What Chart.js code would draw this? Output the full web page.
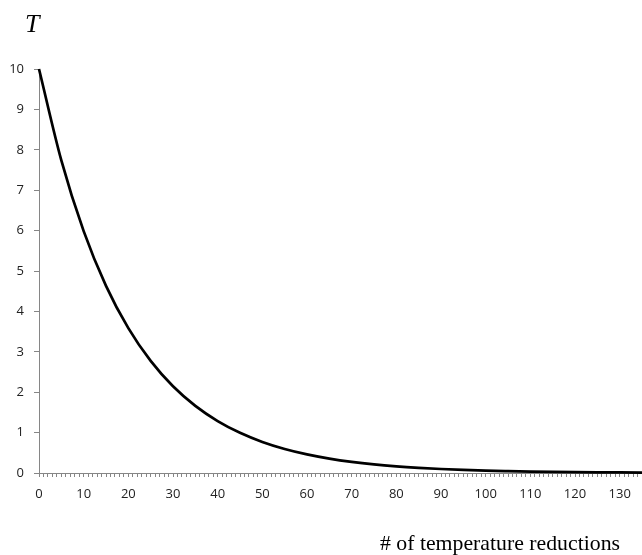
<!DOCTYPE html>
<html><head><meta charset="utf-8">
<script src="https://cdn.jsdelivr.net/npm/chart.js@4/dist/chart.umd.min.js"></script>
<style>html,body{margin:0;padding:0;background:#fff}#wrap{width:642px;height:555px;position:relative}</style>
</head><body><div id="wrap"><canvas id="c" width="642" height="555"></canvas></div>
<script>
const reductions = [0,5,10,15,20,25,30,35,40,45,50,55,60,65,70,75,80,85,90,95,100,105,110,115,120,125,130,135];
const temperature = [10,7.738,5.987,4.633,3.585,2.774,2.146,1.661,1.285,0.994,0.769,0.595,0.461,0.357,0.276,0.213,0.165,0.128,0.099,0.077,0.059,0.046,0.035,0.027,0.021,0.016,0.013,0.010];
const yTitle = 'T';
const xTitle = '# of temperature reductions';
const xLabelStep = 10;

const textPlugin = {
  id: 'texts',
  afterDraw(chart) {
    const ctx = chart.ctx;
    ctx.save();
    ctx.fillStyle = '#000';
    ctx.font = 'italic 26px "Liberation Serif"';
    ctx.textBaseline = 'alphabetic';
    ctx.textAlign = 'left';
    ctx.fillText(yTitle, 25, 32);
    ctx.font = '21px "Liberation Serif"';
    const w = ctx.measureText(xTitle).width;
    const target = 240;
    ctx.translate(380, 550);
    ctx.scale(target / w, 1);
    ctx.fillText(xTitle, 0, 0);
    ctx.restore();
  }
};

new Chart(document.getElementById('c'), {
  type: 'line',
  data: {
    datasets: [{
      data: reductions.map((x, i) => ({x: x, y: temperature[i]})),
      borderColor: '#000',
      borderWidth: 2.7,
      pointRadius: 0,
      fill: false,
      cubicInterpolationMode: 'monotone',
      clip: false
    }]
  },
  options: {
    responsive: false,
    animation: false,
    layout: {padding: {top: 69, right: 0, left: 1, bottom: 0}},
    plugins: {legend: {display: false}, tooltip: {enabled: false}},
    scales: {
      x: {
        type: 'linear', min: 0, max: 135,
        afterFit(s) { s.height = 82; s.paddingRight = 0; s.paddingLeft = 0; },
        border: {color: '#868686', width: 1},
        grid: {drawOnChartArea: false, drawTicks: true, tickLength: 4, color: '#868686'},
        ticks: {
          stepSize: 1, autoSkip: false, maxRotation: 0, maxTicksLimit: 500,
          padding: 9, color: '#222',
          font: {family: '"Open Sans"', size: 13},
          callback: v => (v % xLabelStep === 0 ? String(v) : '')
        }
      },
      y: {
        min: 0, max: 10,
        afterFit(s) { s.width = 38; s.paddingTop = 0; s.paddingBottom = 0; },
        border: {color: '#868686', width: 1},
        grid: {drawOnChartArea: false, drawTicks: true, tickLength: 5, color: '#868686'},
        ticks: {stepSize: 1, padding: 10, color: '#222', font: {family: '"Open Sans"', size: 13}}
      }
    }
  },
  plugins: [textPlugin]
});
</script></body></html>
